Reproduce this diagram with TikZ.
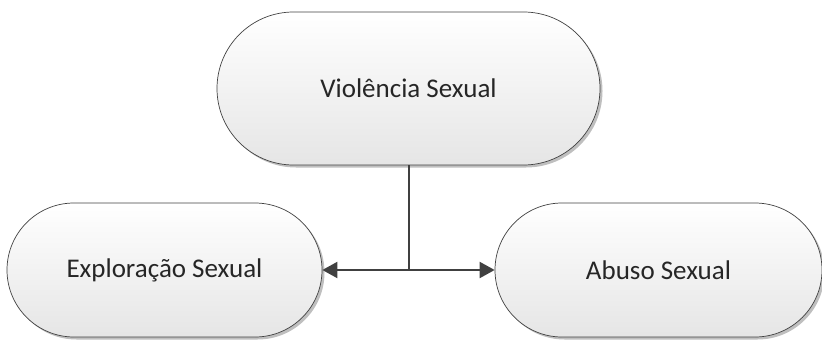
\documentclass[tikz,border=0pt]{standalone}
\usepackage{fontspec}
\setmainfont{Carlito}
\usetikzlibrary{shapes.misc,arrows.meta,shadows}
\definecolor{edge}{HTML}{404040}
\definecolor{txt}{HTML}{262626}
\tikzset{
  pill/.style={rounded rectangle, draw=edge, line width=0.7pt,
    top color=white, bottom color=black!10,
    drop shadow={shadow xshift=2.5pt, shadow yshift=-2.5pt, opacity=0.25, fill=black},
    text=txt, font=\fontsize{27}{32}\selectfont, inner sep=0pt},
  link/.style={draw=edge, line width=2pt, -{Triangle[length=15pt,width=16pt]}}
}
\begin{document}
\begin{tikzpicture}[x=1pt,y=-1pt]
\useasboundingbox (0,0) rectangle (822,340);
\node[pill, minimum width=383pt, minimum height=153pt] (top) at (408.5,88.5) {Violência Sexual};
\node[pill, minimum width=315pt, minimum height=134pt] (left) at (164.5,270) {Exploração Sexual};
\node[pill, minimum width=327pt, minimum height=134pt] (right) at (658.5,270) {Abuso Sexual};
\draw[link] (top.south) |- (left.east);
\draw[link] (top.south) |- (right.west);
\end{tikzpicture}
\end{document}
